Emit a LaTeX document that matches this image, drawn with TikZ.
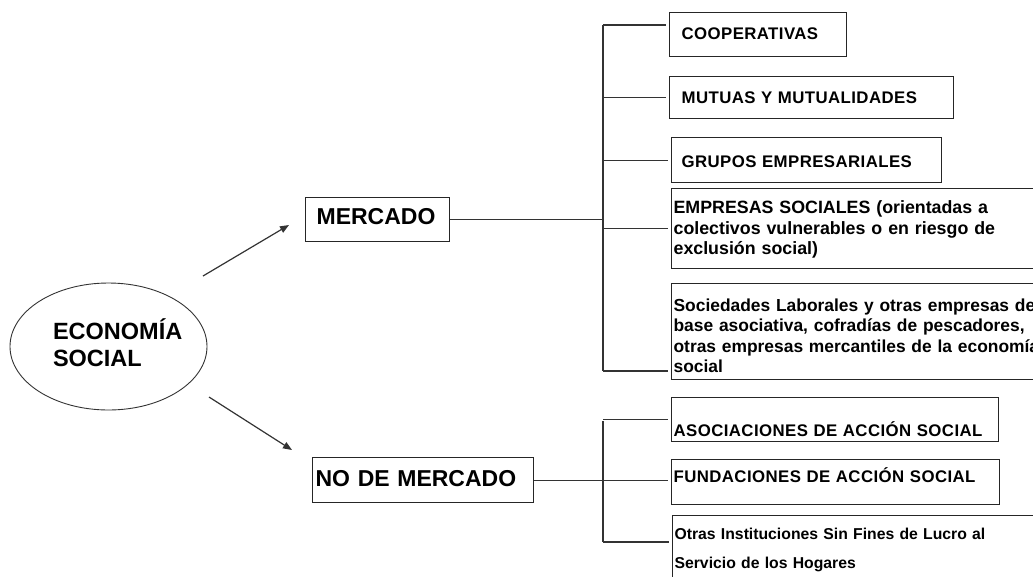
\documentclass[tikz,border=0pt]{standalone}
\usepackage{fontspec}
\setmainfont{Liberation Sans}
\newfontfamily\capsfont[LetterSpace=2.5]{Liberation Sans}
\usetikzlibrary{arrows.meta,shapes.geometric}
\begin{document}
\begin{tikzpicture}[x=1pt,y=-1pt,
  box/.style={draw=black!85, line width=1.2pt, rectangle, anchor=north west, inner ysep=0pt, align=left,
    font={\capsfont\bfseries\fontsize{16.8}{20.7}\selectfont}},
  bigbox/.style={box, font={\bfseries\fontsize{23}{27}\selectfont}},
  midfont/.style={font={\bfseries\fontsize{17.8}{20.6}\selectfont}},
  conn/.style={draw=black!80, line width=1.2pt},
  branch/.style={conn, shorten >=3pt},
  arr/.style={conn, -{Triangle[length=9pt,width=7pt]}},
]
\useasboundingbox (0,0) rectangle (1033,576);
\clip (0,0) rectangle (1033,576);

% central ellipse
\node[draw=black!80, line width=0.9pt, ellipse, minimum width=197pt, minimum height=127pt, inner sep=0pt,
  align=left, font={\bfseries\fontsize{23.5}{26.5}\selectfont}, text height=46.5pt, text depth=7.5pt]
  (eco) at (108.5,346.5) {\makebox[111pt][l]{ECONOMÍA}\\SOCIAL};

% second level
\node[bigbox, inner xsep=11pt, text width=122pt, text height=26.5pt, text depth=17.5pt] (mer) at (305,197) {MERCADO};
\node[bigbox, inner xsep=3pt, text width=215pt, text height=28.5pt, text depth=16.5pt] (nom) at (312,457) {NO DE MERCADO};

% mercado items
\node[box, inner xsep=12pt, text width=153pt, text height=27pt, text depth=17pt] (coop) at (669,12) {COOPERATIVAS};
\node[box, inner xsep=12pt, text width=260pt, text height=27pt, text depth=15pt] (mut) at (669,76) {MUTUAS Y MUTUALIDADES};
\node[box, inner xsep=10pt, text width=250pt, text height=30pt, text depth=15pt] (gru) at (671,137) {GRUPOS EMPRESARIALES};
\node[box, midfont, inner xsep=2pt, text width=400pt, text height=25pt, text depth=55pt] (emp) at (671,188)
  {EMPRESAS SOCIALES (orientadas a\\colectivos vulnerables o en riesgo de\\exclusión social)};
\node[box, font={\bfseries\fontsize{17.4}{20.6}\selectfont}, inner xsep=2pt, text width=400pt, text height=27.5pt, text depth=68.5pt] (soc) at (671,283)
  {Sociedades Laborales y otras empresas de\\base asociativa, cofradías de pescadores,\\otras empresas mercantiles de la economía\\social};

% no de mercado items
\node[box, inner xsep=2pt, text width=323pt, text height=39pt, text depth=5pt] (asoc) at (671,397) {ASOCIACIONES DE ACCIÓN SOCIAL};
\node[box, inner xsep=2pt, text width=324pt, text height=22.5pt, text depth=22.5pt] (fund) at (671,459) {FUNDACIONES DE ACCIÓN SOCIAL};
\node[box, font={\bfseries\fontsize{15.75}{29.5}\selectfont}, inner xsep=2pt, text width=400pt, text height=23.5pt, text depth=80pt] (otr) at (672,515)
  {Otras Instituciones Sin Fines de Lucro al\\Servicio de los Hogares};

% trunk coordinates
\coordinate (mt) at (603,25);
\coordinate (mb) at (603,371);
\coordinate (nt) at (603,421);
\coordinate (nb) at (603,542);

% arrows
\coordinate (a1s) at (203,276);
\coordinate (a1e) at (289,225);
\coordinate (a2s) at (209,397);
\coordinate (a2e) at (292,450);
\draw[arr] (a1s) -- (a1e);
\draw[arr] (a2s) -- (a2e);

% mercado tree
\draw[conn] (mer.east) -- (mer.east -| mt);
\draw[conn] (mt) -- (mb);
\draw[branch] (mt) -- (mt -| coop.west);
\draw[branch] (mut.west -| mt) -- (mut.west);
\draw[branch] (gru.west -| mt) -- (gru.west);
\draw[branch] (emp.west -| mt) -- (emp.west);
\draw[branch] (mb) -- (mb -| soc.west);

% no de mercado tree
\draw[conn] (nt) -- (nb);
\draw[branch] (nom.east) -- (nom.east -| fund.west);
\draw[branch] (asoc.west -| nt) -- (asoc.west);
\draw[branch] (nb) -- (nb -| otr.west);
\end{tikzpicture}
\end{document}
